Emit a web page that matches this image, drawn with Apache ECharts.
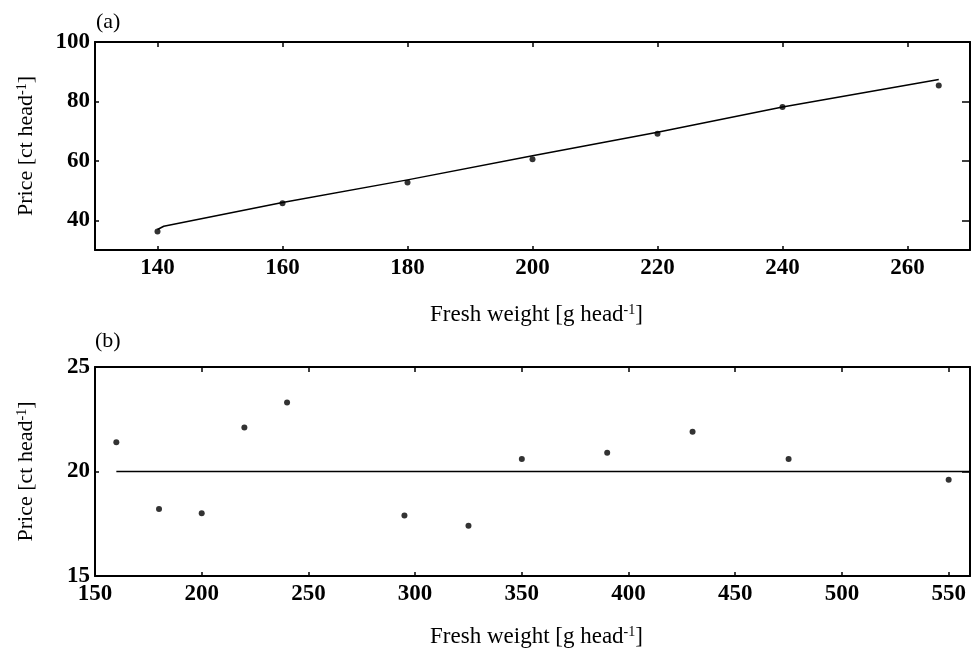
<!DOCTYPE html>
<html>
<head>
<meta charset="utf-8">
<script src="https://cdn.jsdelivr.net/npm/echarts@6/dist/echarts.min.js"></script>
<style>
html,body{margin:0;padding:0;background:#fff;}
#chart{width:972px;height:648px;}
</style>
</head>
<body>
<div id="chart"></div>
<script>
// Panel (a) data
const aWeights = [140, 160, 180, 200, 220, 240, 265];
const aPrices = [36.2, 45.7, 52.7, 60.5, 69.1, 78.1, 85.4];
const aFitX = [140, 141, 160, 180, 200, 220, 240, 265];
const aFitY = [36.9, 38.0, 46.0, 53.6, 61.7, 69.6, 78.1, 87.4];
const aXTicks = [140, 160, 180, 200, 220, 240, 260];
const aYTicks = [40, 60, 80, 100];

// Panel (b) data
const bWeights = [160, 180, 200, 220, 240, 295, 325, 350, 390, 430, 475, 550];
const bPrices = [21.4, 18.2, 18.0, 22.1, 23.3, 17.9, 17.4, 20.6, 20.9, 21.9, 20.6, 19.6];
const bMeanX = [160, 560];
const bMeanY = [20, 20];
const bXTicks = [150, 200, 250, 300, 350, 400, 450, 500, 550];
const bYTicks = [15, 20, 25];

const FONT = 'Liberation Serif';
const tickLabel = {fontFamily: FONT, fontSize: 23, fontWeight: 'bold', color: '#000'};
function nameStyle(size) {
  return {
    fontFamily: FONT, fontSize: size, color: '#000',
    rich: {
      n: {fontFamily: FONT, fontSize: size, color: '#000'},
      sup: {fontFamily: FONT, fontSize: 14, color: '#000', verticalAlign: 'top', padding: [0, 0, 9, 0]}
    }
  };
}
const line = {show: true, lineStyle: {color: '#000', width: 2}};

function xAx(gi, min, max, ticks, name, main, gap) {
  return {
    type: 'value', gridIndex: gi, min: min, max: max,
    position: main ? 'bottom' : 'top',
    axisLine: line, splitLine: {show: false},
    axisTick: {show: true, inside: true, length: main ? 4 : 5, customValues: ticks, lineStyle: {color: '#000', width: 1.5}},
    axisLabel: main ? Object.assign({show: true, margin: 7, customValues: ticks}, tickLabel) : {show: false},
    name: main ? name : '', nameLocation: 'middle', nameGap: gap || 50,
    nameTextStyle: Object.assign({padding: [0, 0, 0, 8]}, nameStyle(23))
  };
}
function yAx(gi, min, max, ticks, name, main) {
  return {
    type: 'value', gridIndex: gi, min: min, max: max,
    position: main ? 'left' : 'right',
    axisLine: line, splitLine: {show: false},
    axisTick: {show: true, inside: true, length: main ? 4 : 8, customValues: ticks, lineStyle: {color: '#000', width: 1.5}},
    axisLabel: main ? Object.assign({show: true, margin: 5, customValues: ticks}, tickLabel) : {show: false},
    name: main ? name : '', nameLocation: 'middle', nameGap: 57,
    nameTextStyle: nameStyle(22)
  };
}

const nameX = '{n|Fresh weight [g head}{sup|-1}{n|]}';
const nameY = '{n|Price [ct head}{sup|-1}{n|]}';

const chart = echarts.init(document.getElementById('chart'), null, {renderer: 'canvas'});
chart.setOption({
  backgroundColor: '#fff',
  animation: false,
  grid: [
    {left: 95, top: 42, width: 875, height: 208, containLabel: false, outerBoundsMode: 'none'},
    {left: 95, top: 367, width: 875, height: 209, containLabel: false, outerBoundsMode: 'none'}
  ],
  xAxis: [
    xAx(0, 130, 270, aXTicks, nameX, true, 53),
    xAx(0, 130, 270, aXTicks, '', false),
    xAx(1, 150, 560, bXTicks, nameX, true, 49),
    xAx(1, 150, 560, bXTicks, '', false)
  ],
  yAxis: [
    yAx(0, 30, 100, aYTicks, nameY, true),
    yAx(0, 30, 100, aYTicks, '', false),
    yAx(1, 15, 25, bYTicks, nameY, true),
    yAx(1, 15, 25, bYTicks, '', false)
  ],
  graphic: [
    {type: 'text', left: 96, top: 11, style: {text: '(a)', fontFamily: FONT, fontSize: 22, fill: '#000'}},
    {type: 'text', left: 95, top: 330, style: {text: '(b)', fontFamily: FONT, fontSize: 22, fill: '#000'}}
  ],
  series: [
    {
      type: 'line', xAxisIndex: 0, yAxisIndex: 0,
      data: aFitX.map((x, i) => [x, aFitY[i]]),
      showSymbol: false, lineStyle: {color: '#000', width: 1.5}, z: 3
    },
    {
      type: 'scatter', xAxisIndex: 0, yAxisIndex: 0,
      data: aWeights.map((x, i) => [x, aPrices[i]]),
      symbol: 'circle', symbolSize: 6, itemStyle: {color: '#000'}, z: 4
    },
    {
      type: 'line', xAxisIndex: 2, yAxisIndex: 2,
      data: bMeanX.map((x, i) => [x, bMeanY[i]]),
      showSymbol: false, lineStyle: {color: '#000', width: 1.5}, z: 3
    },
    {
      type: 'scatter', xAxisIndex: 2, yAxisIndex: 2,
      data: bWeights.map((x, i) => [x, bPrices[i]]),
      symbol: 'circle', symbolSize: 6, itemStyle: {color: '#000'}, z: 4
    }
  ]
});
</script>
</body>
</html>
